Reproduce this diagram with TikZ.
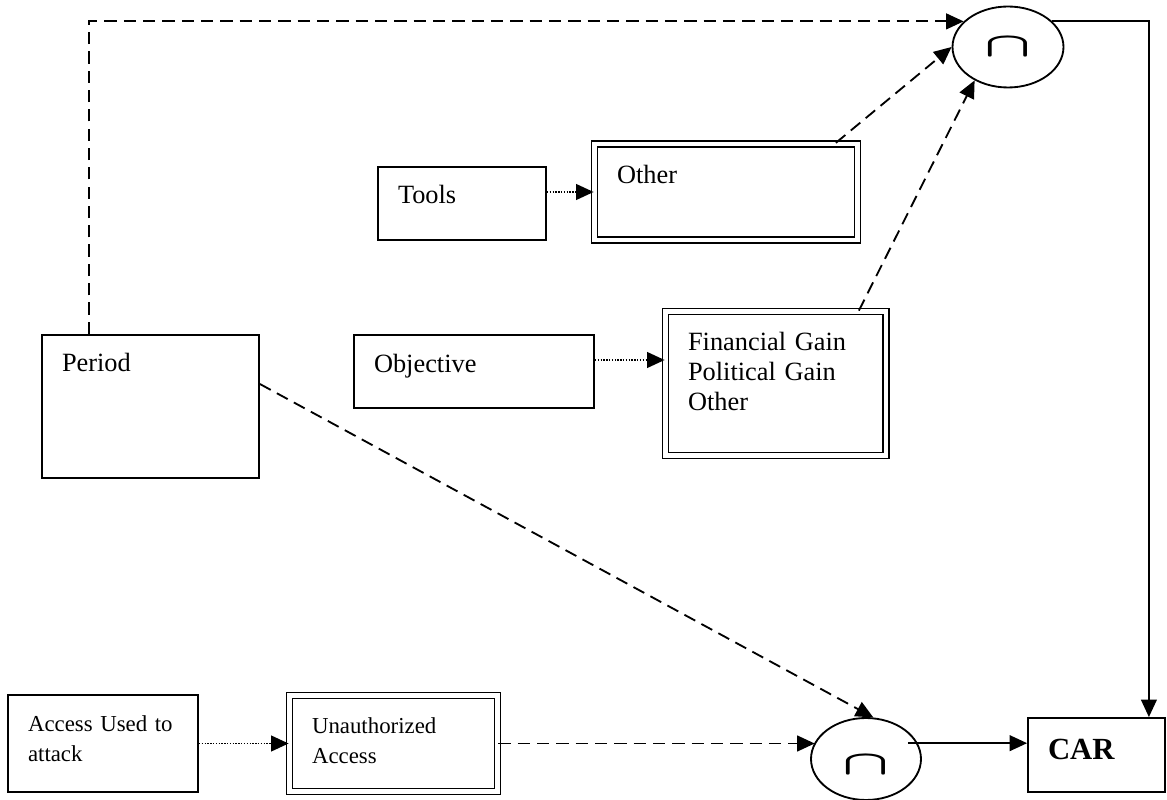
\documentclass[tikz,border=0pt]{standalone}
\usepackage{fontspec}
\usepackage{graphicx}
\setmainfont{Liberation Serif}
\usetikzlibrary{arrows.meta,shapes.geometric}
\newcommand{\meet}{\scalebox{1.4}[0.78]{\boldmath$\cap$}}
\tikzset{
  box/.style={draw,rectangle,line width=1.05pt,align=left,inner xsep=0.4cm,
    inner ysep=1pt,font=\fontsize{15}{17}\selectfont},
  double box/.style={box,double,double distance=2.4pt,inner xsep=0.45cm},
  small text/.style={font=\fontsize{13}{17}\selectfont},
  junction/.style={draw,ellipse,line width=1.05pt,inner sep=0pt,
    font=\fontsize{25}{25}\selectfont},
  flow/.style={draw,line width=1.05pt,dash pattern=on 7pt off 4pt,
    -{Triangle[length=10pt,width=9pt]}},
  link/.style={draw,line width=1.05pt,dash pattern=on 0.8pt off 0.8pt,
    -{Triangle[length=10pt,width=9pt]}},
  result/.style={draw,line width=1.05pt,-{Triangle[length=10pt,width=9pt]}}
}

\begin{document}
\begin{tikzpicture}[x=0.02cm,y=-0.02cm]
  \useasboundingbox (0,0) rectangle (1167,800);
  % attributes
  \node[box,text width=2.56cm,minimum height=1.46cm,text depth=0.37cm]
    (tools) at (462,203.5) {Tools};
  \node[double box,text width=4.36cm,minimum height=1.93cm,text depth=0.71cm]
    (other) at (726,192) {Other};
  \node[box,text width=3.54cm,minimum height=2.86cm,text depth=1.77cm]
    (period) at (150.5,406.5) {Period};
  \node[box,text width=4.0cm,minimum height=1.46cm,text depth=0.33cm]
    (objective) at (474,371.5) {Objective};
  \node[double box,text width=3.51cm,minimum height=2.88cm,text depth=1.69cm]
    (gain) at (775.75,383.5) {Financial Gain\\Political Gain\\Other};
  \node[box,small text,text width=3.0cm,minimum height=1.94cm,text depth=0.81cm]
    (access) at (103,743.5) {Access Used to\\attack};
  \node[double box,small text,text width=3.26cm,minimum height=1.92cm,text depth=0.73cm]
    (unauth) at (393.5,743.5) {Unauthorized\\Access};
  \node[box,text width=1.94cm,minimum height=1.48cm,text depth=0.21cm,
    font=\fontsize{17.5}{20}\selectfont\bfseries] (car) at (1096.5,755) {CAR};
  % intersections
  \node[junction,minimum width=2.22cm,minimum height=1.62cm]
    (etop) at (1008,47) {\meet};
  \node[junction,minimum width=2.2cm,minimum height=1.64cm,text height=0.62cm]
    (elow) at (866,759) {\meet};
  % connectors
  \coordinate (t) at ([yshift=0.23cm]tools.east);
  \draw[link] (t) -- (t -| other.west);
  \coordinate (o) at ([yshift=0.23cm]objective.east);
  \draw[link] (o) -- (o -| gain.west);
  \draw[link] (access) -- (unauth);
  \draw[flow] ([xshift=0.95cm]period.north west) |- (etop.150);
  \draw[flow] ([xshift=-0.45cm]other.north east) -- (etop.west);
  \draw[flow] ([xshift=-0.56cm]gain.north east) -- (etop.225);
  \draw[flow] ([yshift=0.45cm]period.east) -- (elow.80);
  \draw[flow] (unauth.east) -- (unauth.east -| elow.162);
  \draw[result] (etop.30) -| ([xshift=-0.34cm]car.north east);
  \coordinate (e) at ([xshift=-0.2cm]elow.17);
  \draw[result] (e) -- (e -| car.west);
\end{tikzpicture}
\end{document}
